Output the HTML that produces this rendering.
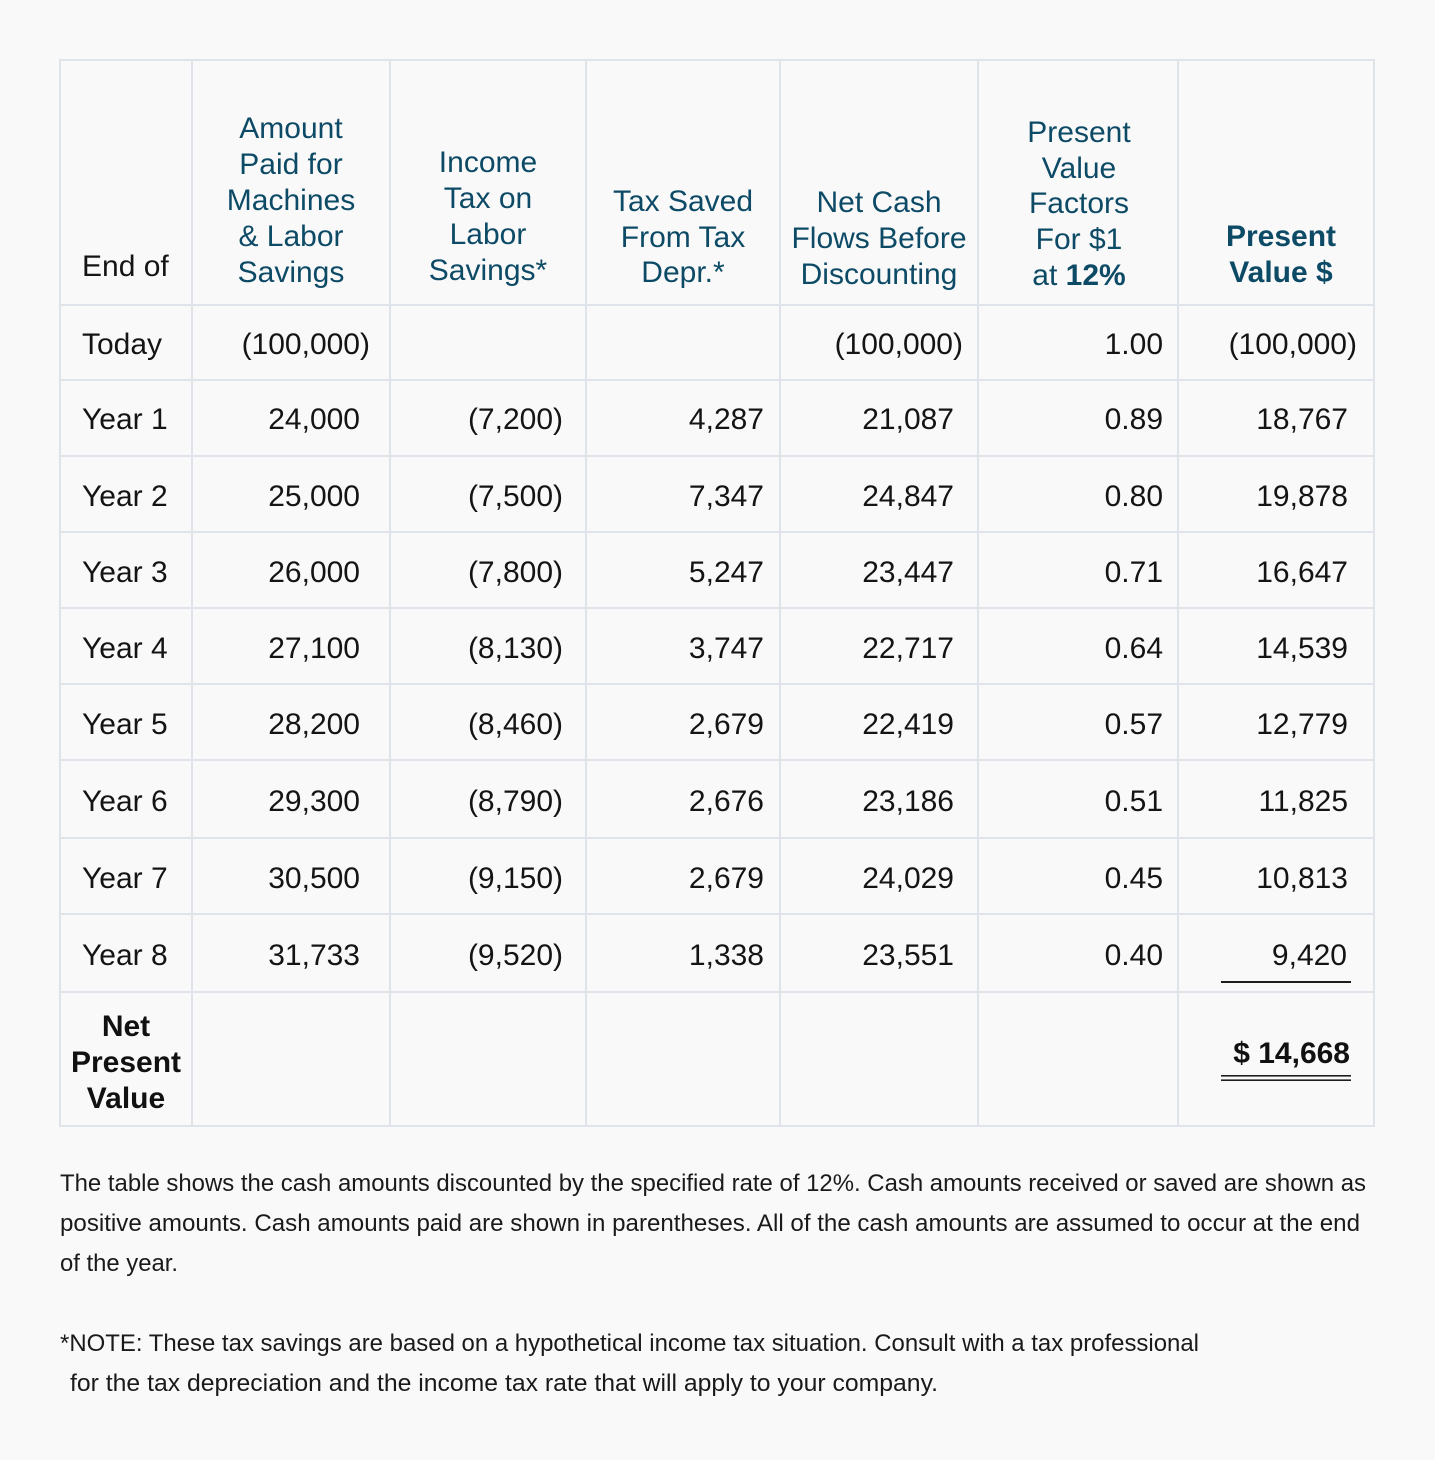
<!DOCTYPE html>
<html>
<head>
<meta charset="utf-8">
<style>
  html,body{margin:0;padding:0;background:#f9f9f9;}
  svg{display:block;}
  .h{font-family:"Liberation Sans",sans-serif;font-size:30px;fill:#0d4a66;}
  .hb{font-family:"Liberation Sans",sans-serif;font-size:30px;fill:#0d4a66;font-weight:bold;}
  .t{font-family:"Liberation Sans",sans-serif;font-size:30px;fill:#141414;}
  .tb{font-family:"Liberation Sans",sans-serif;font-size:30px;fill:#111;font-weight:bold;}
  .f{font-family:"Liberation Sans",sans-serif;font-size:24px;fill:#1a1a1a;}
</style>
</head>
<body>
<svg width="1435" height="1460" viewBox="0 0 1435 1460" xmlns="http://www.w3.org/2000/svg">
  <rect x="0" y="0" width="1435" height="1460" fill="#f9f9f9"/>
  <g stroke="#dee4e9" stroke-width="2">
    <line x1="60" y1="59" x2="60" y2="1127"/>
    <line x1="192" y1="59" x2="192" y2="1127"/>
    <line x1="390" y1="59" x2="390" y2="1127"/>
    <line x1="586" y1="59" x2="586" y2="1127"/>
    <line x1="780" y1="59" x2="780" y2="1127"/>
    <line x1="978" y1="59" x2="978" y2="1127"/>
    <line x1="1178" y1="59" x2="1178" y2="1127"/>
    <line x1="1374" y1="59" x2="1374" y2="1127"/>
    <line x1="59" y1="60" x2="1375" y2="60"/>
    <line x1="59" y1="305" x2="1375" y2="305"/>
    <line x1="59" y1="380" x2="1375" y2="380"/>
    <line x1="59" y1="456" x2="1375" y2="456"/>
    <line x1="59" y1="532" x2="1375" y2="532"/>
    <line x1="59" y1="608" x2="1375" y2="608"/>
    <line x1="59" y1="684" x2="1375" y2="684"/>
    <line x1="59" y1="760" x2="1375" y2="760"/>
    <line x1="59" y1="838" x2="1375" y2="838"/>
    <line x1="59" y1="914" x2="1375" y2="914"/>
    <line x1="59" y1="992" x2="1375" y2="992"/>
    <line x1="59" y1="1126" x2="1375" y2="1126"/>
  </g>

  <!-- Header -->
  <text class="t" x="82" y="276">End of</text>
  <g text-anchor="middle">
    <text class="h" x="291" y="138">Amount</text>
    <text class="h" x="291" y="174">Paid for</text>
    <text class="h" x="291" y="210">Machines</text>
    <text class="h" x="291" y="246">&amp; Labor</text>
    <text class="h" x="291" y="282">Savings</text>

    <text class="h" x="488" y="172">Income</text>
    <text class="h" x="488" y="208">Tax on</text>
    <text class="h" x="488" y="244">Labor</text>
    <text class="h" x="488" y="280">Savings*</text>

    <text class="h" x="683" y="211">Tax Saved</text>
    <text class="h" x="683" y="247">From Tax</text>
    <text class="h" x="683" y="282">Depr.*</text>

    <text class="h" x="879" y="212">Net Cash</text>
    <text class="h" x="879" y="248">Flows Before</text>
    <text class="h" x="879" y="284">Discounting</text>

    <text class="h" x="1079" y="142">Present</text>
    <text class="h" x="1079" y="178">Value</text>
    <text class="h" x="1079" y="213">Factors</text>
    <text class="h" x="1079" y="249">For $1</text>
    <text class="h" x="1079" y="285">at <tspan font-weight="bold">12%</tspan></text>

    <text class="hb" x="1281" y="246">Present</text>
    <text class="hb" x="1281" y="282">Value $</text>
  </g>

  <!-- Row labels -->
  <text class="t" x="82" y="354">Today</text>
  <text class="t" x="82" y="429">Year 1</text>
  <text class="t" x="82" y="506">Year 2</text>
  <text class="t" x="82" y="582">Year 3</text>
  <text class="t" x="82" y="658">Year 4</text>
  <text class="t" x="82" y="734">Year 5</text>
  <text class="t" x="82" y="811">Year 6</text>
  <text class="t" x="82" y="888">Year 7</text>
  <text class="t" x="82" y="965">Year 8</text>

  <g text-anchor="end">
    <text class="t" x="370" y="354">(100,000)</text>
    <text class="t" x="963" y="354">(100,000)</text>
    <text class="t" x="1163" y="354">1.00</text>
    <text class="t" x="1357" y="354">(100,000)</text>

    <text class="t" x="360" y="429">24,000</text>
    <text class="t" x="563" y="429">(7,200)</text>
    <text class="t" x="764" y="429">4,287</text>
    <text class="t" x="954" y="429">21,087</text>
    <text class="t" x="1163" y="429">0.89</text>
    <text class="t" x="1348" y="429">18,767</text>

    <text class="t" x="360" y="506">25,000</text>
    <text class="t" x="563" y="506">(7,500)</text>
    <text class="t" x="764" y="506">7,347</text>
    <text class="t" x="954" y="506">24,847</text>
    <text class="t" x="1163" y="506">0.80</text>
    <text class="t" x="1348" y="506">19,878</text>

    <text class="t" x="360" y="582">26,000</text>
    <text class="t" x="563" y="582">(7,800)</text>
    <text class="t" x="764" y="582">5,247</text>
    <text class="t" x="954" y="582">23,447</text>
    <text class="t" x="1163" y="582">0.71</text>
    <text class="t" x="1348" y="582">16,647</text>

    <text class="t" x="360" y="658">27,100</text>
    <text class="t" x="563" y="658">(8,130)</text>
    <text class="t" x="764" y="658">3,747</text>
    <text class="t" x="954" y="658">22,717</text>
    <text class="t" x="1163" y="658">0.64</text>
    <text class="t" x="1348" y="658">14,539</text>

    <text class="t" x="360" y="734">28,200</text>
    <text class="t" x="563" y="734">(8,460)</text>
    <text class="t" x="764" y="734">2,679</text>
    <text class="t" x="954" y="734">22,419</text>
    <text class="t" x="1163" y="734">0.57</text>
    <text class="t" x="1348" y="734">12,779</text>

    <text class="t" x="360" y="811">29,300</text>
    <text class="t" x="563" y="811">(8,790)</text>
    <text class="t" x="764" y="811">2,676</text>
    <text class="t" x="954" y="811">23,186</text>
    <text class="t" x="1163" y="811">0.51</text>
    <text class="t" x="1348" y="811">11,825</text>

    <text class="t" x="360" y="888">30,500</text>
    <text class="t" x="563" y="888">(9,150)</text>
    <text class="t" x="764" y="888">2,679</text>
    <text class="t" x="954" y="888">24,029</text>
    <text class="t" x="1163" y="888">0.45</text>
    <text class="t" x="1348" y="888">10,813</text>

    <text class="t" x="360" y="965">31,733</text>
    <text class="t" x="563" y="965">(9,520)</text>
    <text class="t" x="764" y="965">1,338</text>
    <text class="t" x="954" y="965">23,551</text>
    <text class="t" x="1163" y="965">0.40</text>
    <text class="t" x="1347" y="965">9,420</text>
  </g>

  <rect x="1221" y="981" width="130" height="2" fill="#1e1e1e"/>

  <g text-anchor="middle">
    <text class="tb" x="126" y="1036">Net</text>
    <text class="tb" x="126" y="1072">Present</text>
    <text class="tb" x="126" y="1108">Value</text>
  </g>
  <text class="tb" x="1350" y="1063" text-anchor="end">$ 14,668</text>
  <rect x="1221" y="1075" width="130" height="1.6" fill="#1e1e1e"/>
  <rect x="1221" y="1079.4" width="130" height="1.6" fill="#1e1e1e"/>

  <text class="f" x="60" y="1191" textLength="1306" lengthAdjust="spacingAndGlyphs">The table shows the cash amounts discounted by the specified rate of 12%. Cash amounts received or saved are shown as</text>
  <text class="f" x="60" y="1231" textLength="1300" lengthAdjust="spacingAndGlyphs">positive amounts. Cash amounts paid are shown in parentheses. All of the cash amounts are assumed to occur at the end</text>
  <text class="f" x="60" y="1271" textLength="118" lengthAdjust="spacingAndGlyphs">of the year.</text>
  <text class="f" x="60" y="1351" textLength="1139" lengthAdjust="spacingAndGlyphs">*NOTE: These tax savings are based on a hypothetical income tax situation. Consult with a tax professional</text>
  <text class="f" x="70" y="1391" textLength="868" lengthAdjust="spacingAndGlyphs">for the tax depreciation and the income tax rate that will apply to your company.</text>
</svg>
</body>
</html>
